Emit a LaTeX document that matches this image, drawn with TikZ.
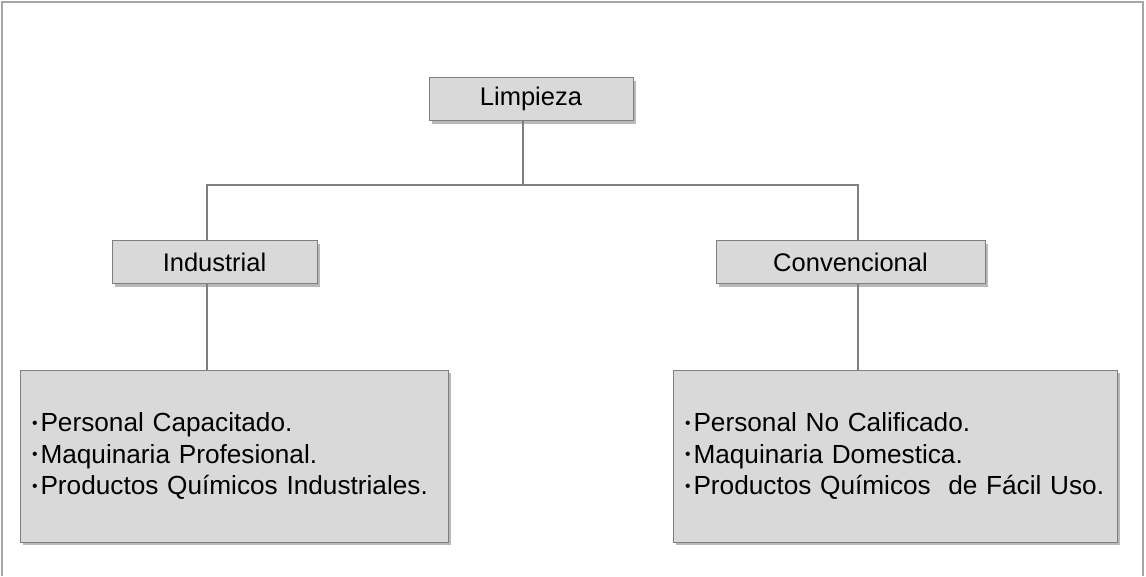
\documentclass[tikz,border=0pt]{standalone}
\usepackage{fontspec}
\setmainfont{Liberation Sans}
\usepackage{tikz}
\usetikzlibrary{positioning, shadows, calc}
\usepackage{xcolor}

\definecolor{boxfill}{HTML}{D9D9D9}
\definecolor{boxline}{HTML}{7F7F7F}
\definecolor{frameline}{HTML}{A6A6A6}

% small bullet with a gap after it
\newcommand{\itembul}{\raisebox{.12em}{\scalebox{.6}{\textbullet}}\hspace{3pt}}

\begin{document}
\begin{tikzpicture}[
    x=1pt, y=-1pt,
    box/.style={draw=boxline, line width=1pt, fill=boxfill, inner sep=0pt,
        drop shadow={shadow xshift=3pt, shadow yshift=-3pt, fill=black!50, opacity=.55},
        font=\fontsize{25.5}{30}\selectfont},
    title/.style={box, minimum height=43pt},
    listbox/.style={box, minimum height=172pt, text width=#1, align=left,
        inner xsep=12pt, font=\fontsize{26.2}{31.5}\selectfont},
    conn/.style={draw=boxline, line width=1.5pt}
]
    % Page and outer frame
    \useasboundingbox (0,0) rectangle (1146,576);
    \draw[frameline, line width=1.5pt] (2,576) -- (2,2) -- (1143,2) -- (1143,576);

    % Headings
    \node[title, minimum width=204pt] (lim) at (531,99) {Limpieza};
    \node[title, minimum width=205pt] (ind) at (214.5,262) {Industrial};
    \node[title, minimum width=269pt] (conv) at (850.5,262) {Convencional};

    % Lists
    \node[listbox=404pt] (indlist) at (234,456)
        {\itembul Personal Capacitado.\\
         \itembul Maquinaria Profesional.\\
         \itembul Productos Químicos Industriales.};
    \node[listbox=420pt] (convlist) at (895,456)
        {\itembul Personal No Calificado.\\
         \itembul Maquinaria Domestica.\\
         \itembul \mbox{Productos Químicos\ \ de Fácil Uso.}};

    % Connectors
    \coordinate (hub) at (523,185);
    \draw[conn] (lim.south -| hub) -- (hub) -| ([xshift=-7.5pt]ind.north);
    \draw[conn] (hub) -| ([xshift=7.5pt]conv.north);
    \draw[conn] ([xshift=-7.5pt]ind.south) -- ([xshift=-7.5pt]ind.south |- indlist.north);
    \draw[conn] ([xshift=7.5pt]conv.south) -- ([xshift=7.5pt]conv.south |- convlist.north);
\end{tikzpicture}
\end{document}
